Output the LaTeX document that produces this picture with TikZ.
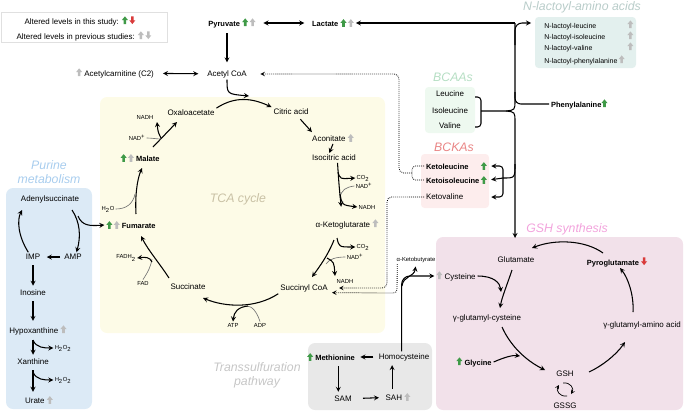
\documentclass[tikz,border=0pt]{standalone}
\usepackage{fontspec}
\setmainfont{Liberation Sans}
\usetikzlibrary{arrows}

\definecolor{upgreen}{HTML}{3F9A47}
\definecolor{dnred}{HTML}{D93A3A}
\definecolor{oldgrey}{HTML}{BDBDBD}
\definecolor{tcabg}{HTML}{FDFBE7}
\definecolor{purbg}{HTML}{DCEAF6}
\definecolor{gshbg}{HTML}{F2E1EA}
\definecolor{trsbg}{HTML}{E8E8E8}
\definecolor{bcaabg}{HTML}{EEF9F0}
\definecolor{bckabg}{HTML}{FDEDED}
\definecolor{nlbg}{HTML}{E3F0EE}
\definecolor{tcatxt}{HTML}{C9C1A5}
\definecolor{purtxt}{HTML}{A8CDEE}
\definecolor{bcaatxt}{HTML}{B5DEC3}
\definecolor{bckatxt}{HTML}{E98585}
\definecolor{gshtxt}{HTML}{F2A2DC}
\definecolor{trstxt}{HTML}{C6C6C6}
\definecolor{nltxt}{HTML}{B8CCC9}

% small block arrows for altered levels
\newcommand{\upa}[1]{\tikz[baseline=0pt]\fill[#1] (-1.1pt,0pt) -- (-1.1pt,3.4pt) -- (-2.6pt,3.4pt) -- (0pt,6.6pt) -- (2.6pt,3.4pt) -- (1.1pt,3.4pt) -- (1.1pt,0pt) -- cycle;}
\newcommand{\dna}[1]{\tikz[baseline=0pt]\fill[#1] (-1.1pt,6.6pt) -- (-1.1pt,3.2pt) -- (-2.6pt,3.2pt) -- (0pt,0pt) -- (2.6pt,3.2pt) -- (1.1pt,3.2pt) -- (1.1pt,6.6pt) -- cycle;}

\begin{document}
\begin{tikzpicture}[
    x=0.03cm, y=-0.03cm,
    lbl/.style={font=\fontsize{6.8}{8}\selectfont, inner sep=1.5pt},
    blbl/.style={font=\bfseries\fontsize{6.4}{8}\selectfont, inner sep=1.5pt},
    sml/.style={font=\fontsize{5}{6}\selectfont, inner sep=1pt},
    nlbl/.style={font=\fontsize{6}{7}\selectfont, inner sep=1pt, anchor=west},
    boxtitle/.style={font=\itshape\fontsize{10.5}{12}\selectfont, align=center},
    panel/.style={rounded corners=6pt},
    arr/.style={->, >=stealth, line width=0.9pt},
    conn/.style={line width=0.9pt},
    cofac/.style={draw=black!55, line width=0.55pt},
    dotline/.style={densely dotted, line width=0.7pt},
    dotarr/.style={->, >=stealth, densely dotted, line width=0.7pt}
]
\useasboundingbox (0,0) rectangle (685,412);

% Panels
\fill[purbg, panel] (6,188) rectangle (92,409);
\fill[tcabg, panel] (100,97) rectangle (385,333);
\fill[bcaabg, rounded corners=3pt] (425,87) rectangle (475,133);
\fill[bckabg, rounded corners=3pt] (421,154) rectangle (489,208);
\fill[nlbg, rounded corners=3pt] (535,17) rectangle (636,68);
\fill[gshbg, panel] (436,237) rectangle (683,410);
\fill[trsbg, panel] (308,343) rectangle (432,410);
\draw[black!12, fill=white, line width=0.6pt] (1,12) rectangle (167,42);

% Titles
\node[boxtitle, text=purtxt] (purt) at (49,172) {Purine\\metabolism};
\node[boxtitle, text=tcatxt] (tcat) at (238,199) {TCA cycle};
\node[boxtitle, text=bcaatxt] (bcaat) at (453,77) {BCAAs};
\node[boxtitle, text=bckatxt] (bckat) at (454,147) {BCKAs};
\node[boxtitle, text=gshtxt] (gsht) at (567,229) {GSH synthesis};
\node[boxtitle, text=trstxt] (trst) at (257,375) {Transsulfuration\\pathway};
\node[boxtitle, text=nltxt] (nlt) at (582,7) {N-lactoyl-amino acids};

% Legend
\node[lbl] (leg1) at (80,21) {Altered levels in this study: \upa{upgreen}\,\dna{dnred}};
\node[lbl] (leg2) at (84,36) {Altered levels in previous studies: \upa{oldgrey}\,\dna{oldgrey}};

% Top row
\node[blbl] (pyr) at (232,23) {Pyruvate \upa{upgreen}\,\upa{oldgrey}};
\node[blbl] (lac) at (333,23) {Lactate \upa{upgreen}\,\upa{oldgrey}};
\node[lbl] (acoa) at (227,74) {Acetyl CoA};
\node[lbl] (acar) at (115,73) {\upa{oldgrey} Acetylcarnitine (C2)};
\coordinate (trtop) at (515,23);
\coordinate (nlin) at (531,23);
\coordinate (gshin) at (515,238);

% N-lactoyl-amino acids
\node[nlbl, text width=76pt] (nl1) at (543,25) {N-lactoyl-leucine\hfill\upa{oldgrey}};
\node[nlbl, text width=76pt] (nl2) at (543,36) {N-lactoyl-isoleucine\hfill\upa{oldgrey}};
\node[nlbl, text width=76pt] (nl3) at (543,47) {N-lactoyl-valine\hfill\upa{oldgrey}};
\node[nlbl] (nl4) at (543,60) {N-lactoyl-phenylalanine\,\upa{oldgrey}};

% BCAAs / BCKAs
\node[lbl] (leu) at (450,94) {Leucine};
\node[lbl] (ile) at (450,111) {Isoleucine};
\node[lbl] (val) at (450,126) {Valine};
\node[blbl, anchor=west] (phe) at (549,104) {Phenylalanine\upa{upgreen}};
\node[blbl, anchor=west, text width=52pt] (kl) at (424,166) {Ketoleucine\hfill\upa{upgreen}};
\node[blbl, anchor=west, text width=52pt] (kil) at (424,180) {Ketoisoleucine\hfill\upa{upgreen}};
\node[lbl, anchor=west, text width=52pt] (kv) at (424,197) {Ketovaline};

% TCA cycle
\node[lbl] (cit) at (291,112) {Citric acid};
\node[lbl] (oxa) at (191,113) {Oxaloacetate};
\node[lbl] (acon) at (333,138) {Aconitate \upa{oldgrey}};
\node[lbl] (iso) at (334,158) {Isocitric acid};
\node[lbl] (akg) at (347,224) {α-Ketoglutarate \upa{oldgrey}};
\node[lbl] (scoa) at (304,288) {Succinyl CoA};
\node[lbl] (sca) at (188,287) {Succinate};
\node[blbl] (fum) at (131,225) {\upa{upgreen}\,\upa{oldgrey} Fumarate};
\node[blbl] (mal) at (140,158) {\upa{upgreen}\,\upa{oldgrey} Malate};

\node[sml] (co2a) at (363,178) {CO\textsubscript{2}};
\node[sml] (nad1) at (364,186) {NAD\textsuperscript{+}};
\node[sml] (nadh1) at (367,207) {NADH};
\node[sml] (co2b) at (363,247) {CO\textsubscript{2}};
\node[sml] (nad2) at (355,257) {NAD\textsuperscript{+}};
\node[sml] (nadh2) at (345,281) {NADH};
\node[sml] (atp) at (233,325) {ATP};
\node[sml] (adp) at (260,325) {ADP};
\node[sml] (fad) at (143,283) {FAD};
\node[sml] (fadh) at (126,258) {FADH\textsubscript{2}};
\node[sml] (h2o) at (108,209) {H\textsubscript{2}O};
\node[sml] (nad3) at (137,138) {NAD\textsuperscript{+}};
\node[sml] (nadh3) at (145,117) {NADH};

% Purine metabolism
\node[lbl] (ads) at (50,199) {Adenylsuccinate};
\node[lbl] (imp) at (33,257) {IMP};
\node[lbl] (amp) at (73,257) {AMP};
\node[lbl] (ino) at (33,293) {Inosine};
\node[lbl] (hyp) at (38,330) {Hypoxanthine \upa{oldgrey}};
\node[lbl] (xan) at (33,362) {Xanthine};
\node[lbl] (ura) at (39,400) {Urate \upa{oldgrey}};
\node[sml] (h2o2a) at (63,348) {H\textsubscript{2}O\textsubscript{2}};
\node[sml] (h2o2b) at (63,380) {H\textsubscript{2}O\textsubscript{2}};

% GSH synthesis
\node[lbl] (glu) at (516,260) {Glutamate};
\node[blbl] (pyg) at (617,262) {Pyroglutamate \dna{dnred}};
\node[lbl] (cys) at (456,276) {\upa{oldgrey} Cysteine};
\node[lbl] (gcys) at (487,318) {γ-glutamyl-cysteine};
\node[lbl] (gaa) at (642,325) {γ-glutamyl-amino acid};
\node[blbl] (gly) at (474,362) {\upa{upgreen} Glycine};
\node[lbl] (gsh) at (565,374) {GSH};
\node[lbl] (gssg) at (565,406) {GSSG};

% Transsulfuration pathway
\node[blbl] (met) at (331,357) {\upa{upgreen} Methionine};
\node[lbl] (hcy) at (404,357) {Homocysteine};
\node[lbl] (sam) at (343,399) {SAM};
\node[lbl] (sah) at (398,397) {SAH \upa{oldgrey}};
\node[sml] (akb) at (416,260) {α-Ketobutyrate};
\coordinate (sahup) at ([xshift=-5pt]sah.north);
\coordinate (samup) at ([xshift=-4pt]sam.north);

% Top connectors
\draw[arr, shorten <=3pt, shorten >=5pt] (acoa.north |- pyr.south) -- (acoa.north);
\draw[arr, <->, shorten <=5pt, shorten >=5pt] (pyr) -- (lac);
\draw[arr, <->, shorten <=6pt, shorten >=6pt] (acar) -- (acoa);
\draw[arr] (trtop) -- (lac);
\draw[arr, rounded corners=6pt] (515,45) |- (nlin);

% trunk, BCAAs, BCKAs
\draw[conn] (trtop) -- (515,100) .. controls (515,110) .. (506,111) -- (481,111);
\draw[arr] (506,111) .. controls (515,112) .. (515,122) -- (gshin);
\draw[conn, rounded corners=3pt] (475,97) -| (481,127) -- (475,127);
\draw[conn, rounded corners=5pt] (515,92) |- (phe.west);
\draw[conn] (515,164) .. controls (515,178) .. (503,178);
\draw[arr, rounded corners=3pt, shorten >=2pt] (503,178) |- (kl.east);
\draw[arr, shorten >=2pt] (503,178) -- (kil.east);
\draw[arr, rounded corners=3pt, shorten >=2pt] (503,178) |- (kv.east);

% dotted links
\draw[dotline, rounded corners=3pt] (kl.west) -- ++(-12,0) |- (kil.west);
\draw[dotarr, rounded corners=4pt, shorten >=10pt] (412,173) -- (399,173) |- (acoa.east);
\draw[dotarr, rounded corners=4pt] (kv.west) -| (387,288) -- ([xshift=8pt]scoa.east);
\draw[dotarr, rounded corners=3pt] ([xshift=-16pt]akb.south) -- (397,293) -- ([xshift=2pt,yshift=-4pt]scoa.east);

% TCA cycle connectors
\draw[arr] (acoa.south) .. controls (227,94) .. (249,96);
\draw[arr] (oxa.north east) .. controls (235,96) and (252,98) .. (cit.north west);
\draw[arr] ([xshift=8pt,yshift=-2pt]cit.south) -- ([xshift=-18pt]acon.north);
\draw[arr] (acon.south) -- ([xshift=-4pt]iso.north);
\draw[arr] ([xshift=3pt]iso.south) .. controls (339,185) .. ([xshift=-5pt,yshift=9pt]akg.north);
\draw[arr] (338,172) .. controls (340,179) .. (co2a.west);
\draw[cofac] (nad1.west) .. controls (346,187) and (341,190) .. (340,198);
\draw[arr] (340,194) .. controls (342,205) .. (nadh1.west);
\draw[arr] (334,240) .. controls (328,255) and (320,266) .. (312,277);
\draw[arr] (337,238) .. controls (339,247) .. (co2b.west);
\draw[cofac] (nad2.west) .. controls (336,257) and (329,259) .. (326,264);
\draw[arr] (327,258) .. controls (334,262) .. (335,276);
\draw[arr] (scoa.south west) .. controls (255,309) and (225,307) .. (203,298);
\draw[cofac] (adp.north) .. controls (257,312) and (252,306) .. (247,306);
\draw[arr] (248,306) .. controls (238,307) and (234,312) .. (atp.north);
\draw[arr] (169,278) .. controls (160,264) and (148,250) .. (141,236);
\draw[cofac] (fad.north) .. controls (148,272) and (151,266) .. (152,259);
\draw[arr] (152,262) .. controls (150,257) and (145,257) .. (fadh.east);
\draw[arr] (136,214) .. controls (135,196) and (137,180) .. (142,168);
\draw[cofac] (h2o.east) .. controls (126,209) and (133,204) .. (135,194);
\draw[arr] (153,147) -- (177,122);
\draw[cofac] (nad3.east) .. controls (152,138) and (157,139) .. (161,139);
\draw[arr] (161,138) .. controls (158,132) .. (157,122);

% Purine connectors
\draw[arr] ([xshift=-4pt]imp.north) .. controls (18,236) and (17,220) .. (22,210);
\draw[arr] (72,210) .. controls (80,222) and (81,236) .. ([xshift=3pt]amp.north);
\draw[arr] (78,216) .. controls (82,226) and (90,226) .. (fum.west);
\draw[arr, shorten <=2pt, shorten >=4pt] (amp) -- (imp);
\draw[arr, shorten <=3pt, shorten >=2pt] (imp) -- (ino);
\draw[arr, shorten <=3pt, shorten >=2pt] (ino.south) -- (ino.south |- hyp.north);
\draw[arr, shorten <=3pt, shorten >=2pt] (xan.north |- hyp.south) -- (xan.north);
\draw[arr] (33,340) .. controls (36,348) and (45,348) .. (h2o2a.west);
\draw[arr, shorten <=3pt, shorten >=2pt] (xan.south) -- (xan.south |- ura.north);
\draw[arr] (33,372) .. controls (36,380) and (45,380) .. (h2o2b.west);

% GSH connectors
\draw[arr] (603,253) .. controls (585,240) and (555,239) .. (532,248);
\draw[arr] (512,270) .. controls (507,285) and (502,297) .. (500,308);
\draw[arr] (cys.east) .. controls (494,276) and (500,283) .. (501,292);
\draw[arr] (502,327) .. controls (510,345) and (525,360) .. (545,370);
\draw[arr] (gly.east) .. controls (505,357) and (513,355) .. (520,356);
\draw[arr] (589,372) .. controls (602,366) and (616,355) .. (625,342);
\draw[arr] (633,312) .. controls (634,295) and (628,278) .. (620,268);
\draw[arr, line width=0.6pt] (563,383) .. controls (571,382) and (574,389) .. (571,394);
\draw[arr, line width=0.6pt] (567,396) .. controls (559,397) and (556,390) .. (559,385);

% Transsulfuration connectors
\draw[arr, shorten <=3pt, shorten >=3pt] (hcy) -- (met);
\draw[arr, shorten <=3pt, shorten >=2pt] (samup |- met.south) -- (samup);
\draw[arr, shorten <=8pt, shorten >=4pt] (sam) -- (sah);
\draw[arr, shorten <=2pt, shorten >=2pt] (sahup) -- (sahup |- hcy.south);
\draw[arr, rounded corners=7pt] ([xshift=-2pt]hcy.north) |- (cys.west);
\draw[arr, shorten >=2pt] (402,286) .. controls (403,276) and (414,277) .. (akb.south);

\end{tikzpicture}
\end{document}
